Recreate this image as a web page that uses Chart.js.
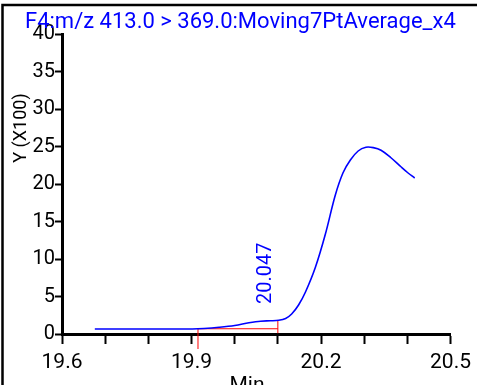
<!DOCTYPE html>
<html>
<head>
<meta charset="utf-8">
<script src="https://cdn.jsdelivr.net/npm/chart.js@4"></script>
<style>
html,body{margin:0;padding:0;background:#fff;}
#wrap{width:477px;height:385px;position:relative;overflow:hidden;}
</style>
</head>
<body>
<div id="wrap"><canvas id="c" width="477" height="385"></canvas></div>
<script>
// ---- data ----
const titleText = "F4:m/z 413.0 > 369.0:Moving7PtAverage_x4";
const yAxisTitle = "Y (X100)";
const xAxisTitle = "Min";
const xTickLabels = [19.6, 19.9, 20.2, 20.5];
const yTickLabels = [0, 5, 10, 15, 20, 25, 30, 35, 40];
const times = [19.676, 19.803, 19.902, 19.929, 19.964, 20.000, 20.033, 20.060, 20.083, 20.102, 20.118, 20.132, 20.148, 20.164, 20.187, 20.210, 20.233, 20.251, 20.268, 20.286, 20.304, 20.321, 20.339, 20.362, 20.385, 20.401, 20.417];
const intensity = [0.67, 0.67, 0.67, 0.73, 0.89, 1.13, 1.49, 1.71, 1.76, 1.83, 2.07, 2.67, 3.87, 5.6, 8.9, 13.3, 18.5, 21.5, 23.2, 24.4, 24.9, 24.85, 24.5, 23.5, 22.3, 21.5, 20.8];
const peakTime = 20.047;
const peakLabel = "20.047";
const integStart = 19.915;
const integEnd = 20.1;
const baselineLevel = 0.7;
const markerBottom = -2.0;
const markerEndLow = 0.1;
const markerEndHigh = 1.85;

const FONT = "Roboto, 'Liberation Sans', Arial, sans-serif";

const mainData = times.map((t, i) => ({x: t, y: intensity[i]}));
const markerData = [
  {x: integStart, y: markerBottom},
  {x: integStart, y: baselineLevel},
  {x: integEnd, y: baselineLevel},
  {x: integEnd, y: null},
  {x: integEnd, y: markerEndLow},
  {x: integEnd, y: markerEndHigh}
];

const decor = {
  id: 'decor',
  afterDraw(chart) {
    const ctx = chart.ctx;
    const xs = chart.scales.x, ys = chart.scales.y;
    ctx.save();
    // frame
    ctx.strokeStyle = '#000';
    ctx.lineWidth = 2.5;
    ctx.beginPath();
    ctx.moveTo(2.5, 385);
    ctx.lineTo(2.5, 5);
    ctx.lineTo(477, 5);
    ctx.stroke();
    // title
    ctx.fillStyle = '#0000ff';
    ctx.font = "22px " + FONT;
    ctx.textAlign = 'left';
    ctx.textBaseline = 'alphabetic';
    ctx.fillText(titleText, 25, 28);
    // peak label
    const px = xs.getPixelForValue(peakTime);
    ctx.save();
    ctx.translate(px + 11, ys.getPixelForValue(8.1));
    ctx.rotate(-Math.PI / 2);
    ctx.textAlign = 'center';
    ctx.textBaseline = 'middle';
    ctx.font = "20px " + FONT;
    ctx.fillText(peakLabel, 0, 0);
    ctx.restore();
    // y axis title
    ctx.save();
    ctx.fillStyle = '#000';
    ctx.translate(21, 128);
    ctx.rotate(-Math.PI / 2);
    ctx.textAlign = 'center';
    ctx.textBaseline = 'middle';
    ctx.font = "18px " + FONT;
    ctx.fillText(yAxisTitle, 0, 0);
    ctx.restore();
    // x axis title
    ctx.fillStyle = '#000';
    ctx.font = "21px " + FONT;
    ctx.textAlign = 'center';
    ctx.textBaseline = 'top';
    ctx.fillText(xAxisTitle, 247, 375);
    ctx.restore();
  }
};

new Chart(document.getElementById('c'), {
  type: 'line',
  data: {
    datasets: [
      {data: mainData, borderColor: '#0000ff', borderWidth: 1.6, pointRadius: 0, tension: 0.35, fill: false},
      {data: markerData, borderColor: '#ff0000', borderWidth: 1, pointRadius: 0, tension: 0, spanGaps: false, clip: false, fill: false}
    ]
  },
  options: {
    responsive: false,
    animation: false,
    events: [],
    layout: {padding: {left: 0, top: 34, right: 24, bottom: 0}},
    plugins: {legend: {display: false}, tooltip: {enabled: false}, title: {display: false}},
    scales: {
      x: {
        type: 'linear', min: 19.6, max: 20.5,
        afterFit(s) { s.height = 51; },
        afterBuildTicks(s) {
          const t = [];
          for (let i = 0; i <= 9; i++) t.push({value: +(19.6 + i * 0.1).toFixed(1)});
          s.ticks = t;
        },
        ticks: {
          color: '#000', font: {family: FONT, size: 21}, padding: 6, maxRotation: 0, autoSkip: false,
          callback: (v) => xTickLabels.some(l => Math.abs(l - v) < 1e-6) ? v.toFixed(1) : ''
        },
        grid: {display: true, drawOnChartArea: false, drawTicks: true, tickLength: 10, tickWidth: 2, color: '#000'},
        border: {display: true, color: '#000', width: 3}
      },
      y: {
        type: 'linear', min: 0, max: 40,
        afterFit(s) { s.width = 62; },
        afterBuildTicks(s) { s.ticks = yTickLabels.map(v => ({value: v})); },
        ticks: {color: '#000', font: {family: FONT, size: 20}, padding: 0, autoSkip: false},
        grid: {display: true, drawOnChartArea: false, drawTicks: true, tickLength: 7, tickWidth: 2, color: '#000'},
        border: {display: true, color: '#000', width: 3}
      }
    }
  },
  plugins: [decor]
});
</script>
</body>
</html>
